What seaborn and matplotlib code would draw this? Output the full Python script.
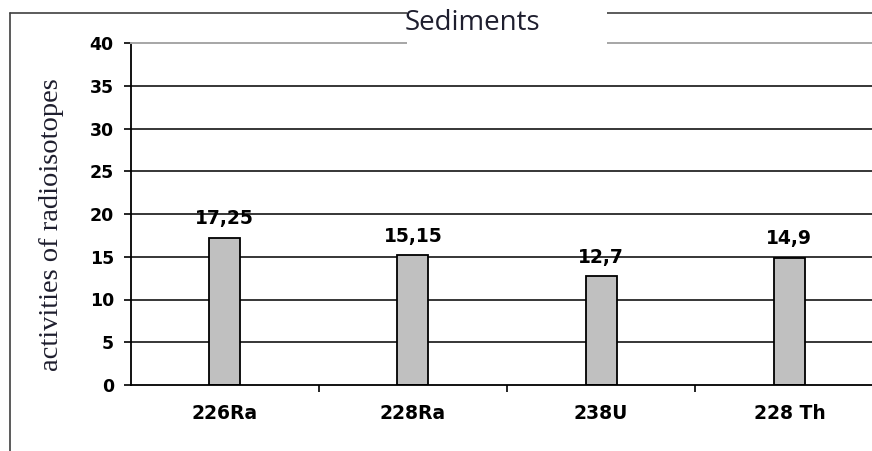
import matplotlib
matplotlib.use("Agg")
import matplotlib.pyplot as plt
from matplotlib.lines import Line2D
from matplotlib.patches import Rectangle
from matplotlib.ticker import FixedLocator
import seaborn as sns

# Radioisotope activities measured in sediments
isotopes = ["226Ra", "228Ra", "238U", "228 Th"]
activities = [17.25, 15.15, 12.7, 14.9]
y_ticks = [0, 5, 10, 15, 20, 25, 30, 35, 40]

W, H = 872, 451
sns.set_style("white")
plt.rcParams["font.family"] = ["DejaVu Sans"]

fig = plt.figure(figsize=(W / 100, H / 100), dpi=100)
fig.patch.set_facecolor("white")

# plot area in pixel terms (extends slightly past the right edge)
left, right, top, bottom = 130.5, 883.5, 43, 385
ax = fig.add_axes([left / W, 1 - bottom / H, (right - left) / W, (bottom - top) / H])
ax.set_facecolor("white")

sns.barplot(x=isotopes, y=activities, color="#c0c0c0", saturation=1,
            edgecolor="black", linewidth=1.3, width=0.165, ax=ax, zorder=2)

ax.set_xlim(-0.5, len(isotopes) - 0.5)
ax.set_ylim(y_ticks[0], y_ticks[-1])
ax.set_yticks(y_ticks)

# horizontal gridlines (black) behind the bars; the top one is the gray frame
for v in y_ticks[1:-1]:
    ax.axhline(v, color="black", lw=1.1, zorder=0.5)

ax.spines["right"].set_visible(False)
ax.spines["top"].set_color("#a6a6a6")
ax.spines["top"].set_linewidth(1.4)
for side in ("left", "bottom"):
    ax.spines[side].set_color("black")
    ax.spines[side].set_linewidth(1.3)

ax.tick_params(axis="y", which="major", left=True, length=5, width=1.2,
               color="black", pad=7, labelsize=12.5, labelcolor="black")
for lab in ax.get_yticklabels():
    lab.set_fontweight("bold")

# category labels without tick marks; small tick marks at category boundaries
ax.tick_params(axis="x", which="major", bottom=True, length=0, pad=13.5,
               labelsize=13.5, labelcolor="black")
for lab in ax.get_xticklabels():
    lab.set_fontweight("bold")
ax.xaxis.set_minor_locator(FixedLocator([i + 0.5 for i in range(len(isotopes) - 1)]))
ax.tick_params(axis="x", which="minor", bottom=True, length=5, width=1.2, color="black")
ax.set_xlabel("")
ax.set_ylabel("")

# value labels above each bar, decimal comma
for i, v in enumerate(activities):
    ax.annotate(f"{v:g}".replace(".", ","), xy=(i, v), xytext=(0, 7),
                textcoords="offset points", ha="center", va="bottom",
                fontsize=13.5, fontweight="bold", color="black", zorder=3)

# outer chart frame (left and top edges)
frame_color = "#404040"
fig.add_artist(Line2D([10 / W, 10 / W], [0, 1 - 12.5 / H], transform=fig.transFigure,
                      color=frame_color, lw=1.2, zorder=2))
fig.add_artist(Line2D([10 / W, 1], [1 - 12.5 / H, 1 - 12.5 / H], transform=fig.transFigure,
                      color=frame_color, lw=1.2, zorder=2))

# title box sitting over the frame and the top gridline
fig.add_artist(Rectangle((407 / W, 1 - 47 / H), 200 / W, 47 / H, transform=fig.transFigure,
                         facecolor="white", edgecolor="none", zorder=5))
fig.text(472 / W, 1 - 30 / H, "Sediments", ha="center", va="baseline",
         fontsize=20, family=["Open Sans", "DejaVu Sans"], color="#1e1e2e", zorder=6)

fig.text(51 / W, 1 - 225 / H, "activities of radioisotopes", rotation=90,
         ha="center", va="center", fontsize=20.5,
         family=["Liberation Serif", "DejaVu Serif"], color="#1e1e2e")

fig.savefig("out.png", dpi=100, facecolor="white")
